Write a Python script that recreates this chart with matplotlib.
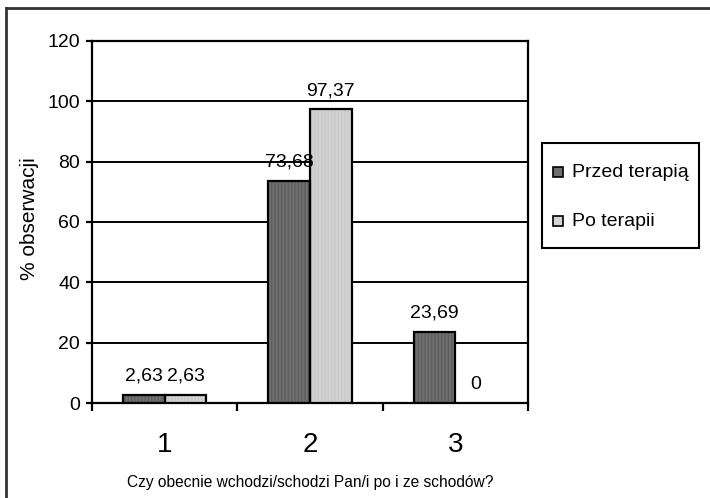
import matplotlib
matplotlib.use("Agg")
import matplotlib.pyplot as plt
from matplotlib.patches import Rectangle
from matplotlib.lines import Line2D
import numpy as np

plt.rcParams['font.family'] = ['Liberation Sans', 'DejaVu Sans']

categories = ["1", "2", "3"]
series_names = ["Przed terapią", "Po terapii"]
przed = [2.63, 73.68, 23.69]
po = [2.63, 97.37, 0.0]
value_labels_przed = ["2,63", "73,68", "23,69"]
value_labels_po = ["2,63", "97,37", "0"]
y_ticks = [0, 20, 40, 60, 80, 100, 120]
x_label = "Czy obecnie wchodzi/schodzi Pan/i po i ze schodów?"
y_label = "% obserwacji"

dark = "#707070"
light = "#d4d4d4"
W, H = 710, 498

fig = plt.figure(figsize=(W / 100, H / 100), dpi=100)
ax = fig.add_axes([92 / W, 95 / H, 436 / W, 362 / H])

x = np.arange(len(categories))
w = 0.286

# bars: hatched fill with a faint vertical texture, then a black outline
ax.bar(x - w / 2, przed, w, color=dark, edgecolor="#5e5e5e", hatch="|||||",
       linewidth=0, zorder=3)
ax.bar(x + w / 2, po, w, color=light, edgecolor="#c8c8c8", hatch="|||||",
       linewidth=0, zorder=3)
ax.bar(x - w / 2, przed, w, fill=False, edgecolor="black", linewidth=1.6, zorder=4)
ax.bar(x + w / 2, [v if v > 0 else np.nan for v in po], w, fill=False,
       edgecolor="black", linewidth=1.6, zorder=4)

for xi, v, lab in zip(x - w / 2, przed, value_labels_przed):
    ax.annotate(lab, (xi, v), xytext=(0, 13.5), textcoords="offset points",
                ha="center", va="center", fontsize=14, zorder=5)
for xi, v, lab in zip(x + w / 2, po, value_labels_po):
    ax.annotate(lab, (xi, v), xytext=(0, 13.5), textcoords="offset points",
                ha="center", va="center", fontsize=14, zorder=5)

ax.set_xlim(-0.5, len(categories) - 0.5)
ax.set_ylim(0, 120)
ax.set_yticks(y_ticks)
ax.set_yticklabels([str(t) for t in y_ticks], fontsize=14)
ax.yaxis.grid(True, color="black", linewidth=1.4, zorder=1)
ax.set_axisbelow(True)

# category boundaries carry tick marks; labels sit at category centres
ax.set_xticks(np.arange(len(categories) + 1) - 0.5)
ax.set_xticklabels([])
ax.set_xticks(x, minor=True)
ax.set_xticklabels(categories, minor=True, fontsize=20)
ax.tick_params(axis="x", which="major", direction="out", length=6, width=1.6)
ax.tick_params(axis="x", which="minor", length=0, pad=21)
ax.tick_params(axis="y", direction="out", length=4.5, width=1.6, pad=4)

for s in ax.spines.values():
    s.set_linewidth(1.6)
    s.set_color("black")

ax.set_xlabel(x_label, fontsize=11.2, labelpad=12)
ax.set_ylabel(y_label, fontsize=15, labelpad=6)
ax.yaxis.label.set_y(0.51)

# legend box drawn in figure pixel coordinates
def px(xp, yp):
    return xp / W, 1 - yp / H

fig.add_artist(Rectangle(px(542, 248), 157 / W, 105 / H, transform=fig.transFigure,
                         facecolor="white", edgecolor="black", linewidth=1.5))
for name, col, yc in zip(series_names, [dark, light], [172, 221]):
    fig.add_artist(Rectangle(px(553, yc + 5), 10 / W, 10 / H, transform=fig.transFigure,
                             facecolor=col, edgecolor="black", linewidth=1.2))
    fig.text(*px(572, yc), name, fontsize=14, ha="left", va="center")

# outer chart frame (top and left edges)
fig.add_artist(Line2D([6 / W, 6 / W], [0, 1 - 8 / H], transform=fig.transFigure,
                      color="#333333", linewidth=2))
fig.add_artist(Line2D([6 / W, 1], [1 - 8 / H, 1 - 8 / H], transform=fig.transFigure,
                      color="#333333", linewidth=2))

fig.savefig("out.png", dpi=100)
